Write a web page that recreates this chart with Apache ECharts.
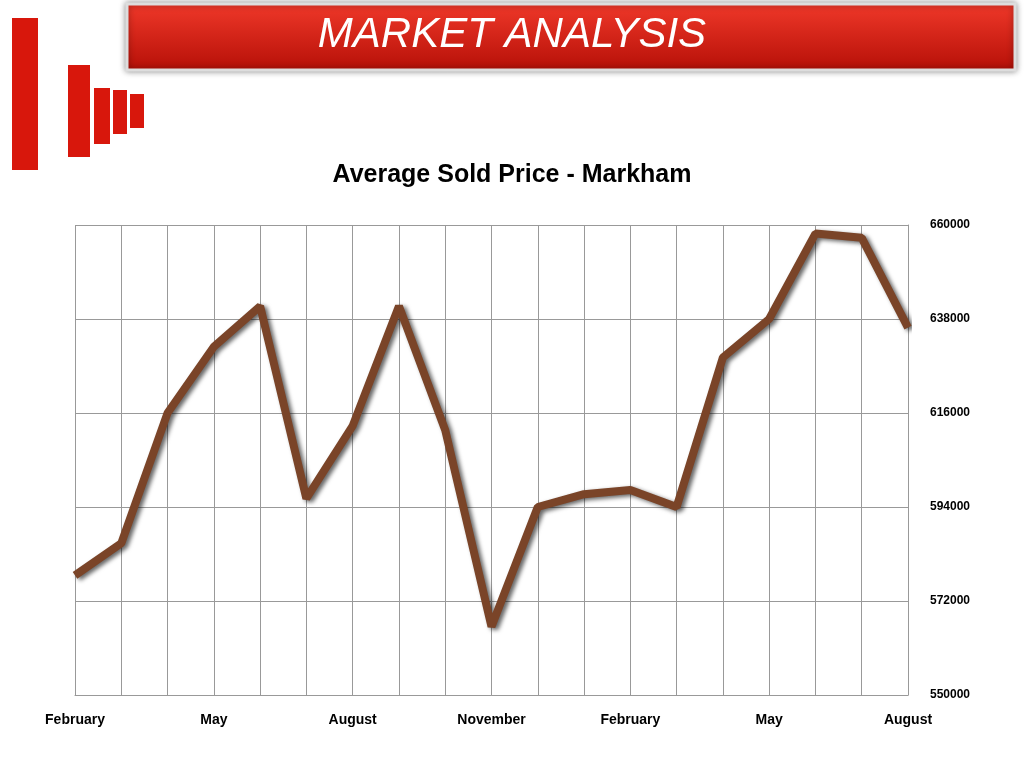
<!DOCTYPE html>
<html><head><meta charset="utf-8">
<script src="https://cdn.jsdelivr.net/npm/echarts@6/dist/echarts.min.js"></script>
<style>html,body{margin:0;padding:0;background:#fff}#c{width:1024px;height:768px}</style>
</head><body><div id="c"></div>
<script>
const months = ['February','March','April','May','June','July','August','September','October','November','December','January','February','March','April','May','June','July','August'];
const prices = [578000,585500,616000,631500,641000,596000,613000,641000,612000,566000,594000,597000,598000,594000,629000,638000,658000,657000,636000];
const yTicks = {min:550000,max:660000,step:22000};

const chart = echarts.init(document.getElementById('c'));
chart.setOption({
  backgroundColor:'#fff',
  title:{text:'Average Sold Price - Markham',left:'center',top:158,
    textStyle:{fontFamily:'Liberation Sans',fontWeight:'bold',fontSize:25,color:'#000'}},
  graphic:[
    {type:'rect',shape:{x:127,y:4,width:888,height:66},style:{fill:new echarts.graphic.LinearGradient(0,0,0,1,[{offset:0,color:'#f0392a'},{offset:1,color:'#b50f07'}]),stroke:'#ddd',lineWidth:3,shadowBlur:6,shadowColor:'rgba(0,0,0,0.4)'}},
    {type:'text',left:'center',top:14,style:{text:'MARKET ANALYSIS',fill:'#fff',font:'italic 42px "Liberation Sans"'}},
    {type:'rect',shape:{x:12,y:18,width:26,height:152},style:{fill:'#d8170c'}},
    {type:'rect',shape:{x:68,y:65,width:22,height:92},style:{fill:'#d8170c'}},
    {type:'rect',shape:{x:94,y:88,width:16,height:56},style:{fill:'#d8170c'}},
    {type:'rect',shape:{x:113,y:90,width:14,height:44},style:{fill:'#d8170c'}},
    {type:'rect',shape:{x:130,y:94,width:14,height:34},style:{fill:'#d8170c'}}
  ],
  grid:{left:75,right:116,top:225,bottom:73},
  xAxis:{type:'category',data:months,boundaryGap:false,
    axisLine:{lineStyle:{color:'#999'}},axisTick:{show:false},
    splitLine:{show:true,interval:0,lineStyle:{color:'#999'}},
    axisLabel:{interval:2,margin:18,color:'#000',fontWeight:'bold',fontSize:14,fontFamily:'Liberation Sans'}},
  yAxis:{type:'value',position:'right',min:yTicks.min,max:yTicks.max,interval:yTicks.step,
    axisLine:{show:true,lineStyle:{color:'#999'}},
    splitLine:{lineStyle:{color:'#999'}},
    axisLabel:{color:'#000',fontWeight:'bold',fontSize:12,margin:22,fontFamily:'Liberation Sans',formatter:v=>String(v)}},
  series:[{type:'line',data:prices,symbol:'none',
    lineStyle:{width:8,color:'#7a4428',shadowColor:'rgba(0,0,0,0.6)',shadowBlur:4,shadowOffsetX:3,shadowOffsetY:2}}]
});
</script></body></html>
